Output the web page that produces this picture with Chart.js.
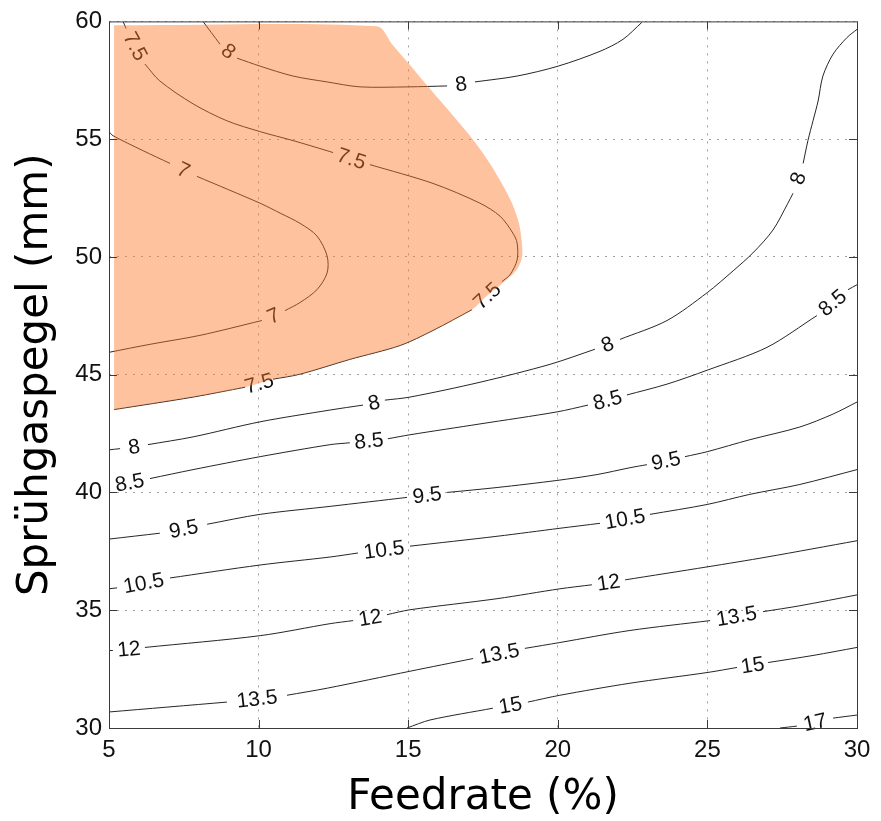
<!DOCTYPE html>
<html>
<head>
<meta charset="utf-8">
<script src="https://cdn.jsdelivr.net/npm/chart.js@4.4.1/dist/chart.umd.min.js"></script>
<style>
  html, body { margin: 0; padding: 0; background: #fff; }
  canvas { display: block; }
</style>
</head>
<body>
<canvas id="contourChart" width="881" height="821"></canvas>
<script>
// axis ticks
const xTicks = [5, 10, 15, 20, 25, 30];
const yTicks = [30, 35, 40, 45, 50, 55, 60];

// contour lines as [Feedrate, Sprühgaspegel]; null = gap where the label goes
const c7 = [
  [5, 55.32], [5.13, 55.15], [6.14, 54.51], [7.04, 53.97], null,
  [7.94, 53.42], [10.05, 52.28], [10.72, 51.86], [11.38, 51.43], [11.95, 50.89], [12.29, 50.04],
  [12.29, 49.32], [11.95, 48.61], [11.38, 48.06], [10.88, 47.72], null,
  [10.11, 47.30], [8.04, 46.67], [6.37, 46.29], [5, 45.95]
];
const c75 = [
  [5.47, 60], [5.57, 59.70], null,
  [6.20, 58.19], [6.70, 57.47], [7.81, 56.50], [8.94, 55.78], [10.05, 55.32], [11.15, 54.94], [12.29, 54.51], [12.49, 54.43], null,
  [13.72, 53.92], [15.83, 53.12], [17.40, 52.28], [18.07, 51.73], [18.50, 51.01], [18.64, 50.59], [18.64, 49.87], [18.40, 49.24], [18.13, 48.95], null,
  [17.13, 47.76], [15.83, 46.88], [14.73, 46.24], [13.05, 45.65], [11.38, 45.02], [10.48, 44.81], null,
  [9.55, 44.47], [7.81, 44.05], [5.17, 43.52]
];
const c8top = [
  [8.14, 60], [8.71, 59.03], null,
  [9.28, 58.44], [10.05, 58.10], [11.15, 57.68], [12.29, 57.43], [13.39, 57.22], [14.99, 57.22], [16.30, 57.26], null,
  [17.23, 57.43], [18.64, 57.68], [20.01, 58.10], [21.41, 58.73], [22.18, 59.24], [22.81, 59.96]
];
const c8 = [
  [5, 41.81], [5.37, 41.86], null,
  [6.30, 42.03], [7.81, 42.36], [10.05, 43.00], [12.39, 43.50], [13.49, 43.71], null,
  [14.22, 43.92], [15.06, 44.05], [17.40, 44.68], [19.74, 45.44], [21.24, 46.08], null,
  [22.08, 46.50], [23.65, 47.30], [24.99, 48.48], [25.86, 49.41], [26.52, 50.17], [27.19, 51.14], [27.69, 52.28], [27.86, 52.70], null,
  [28.20, 53.97], [28.36, 54.94], [28.53, 55.78], [28.70, 56.62], [28.86, 57.68], [29.20, 58.61], [29.67, 59.32], [30, 59.66]
];
const c85 = [
  [5, 40.26], null,
  [6.37, 40.59], [7.81, 40.97], [10.05, 41.52], [12.39, 42.03], [13.05, 42.11], null,
  [14.32, 42.28], [15.06, 42.45], [17.40, 42.91], [19.97, 43.42], [21.01, 43.71], null,
  [22.31, 44.14], [23.65, 44.60], [24.99, 45.19], [26.99, 46.16], [28.66, 47.51], null,
  [29.70, 48.61], [30, 48.82]
];
const c95 = [
  [5, 38.02], [6.70, 38.27], null,
  [8.28, 38.65], [10.05, 39.07], [12.39, 39.41], [14.96, 39.79], null,
  [16.30, 40.00], [17.97, 40.21], [19.97, 40.51], [21.31, 40.76], [22.41, 41.05], [22.98, 41.18], null,
  [24.25, 41.52], [24.99, 41.73], [26.42, 42.24], [28.09, 42.78], [29.20, 43.33], [30, 43.84]
];
const c105 = [
  [5, 35.91], [5.27, 35.95], null,
  [7.04, 36.37], [10.05, 36.92], [12.39, 37.26], [13.32, 37.43], null,
  [15.06, 37.72], [17.97, 38.14], [20.07, 38.48], [21.41, 38.69], null,
  [23.08, 39.07], [24.99, 39.49], [26.42, 39.92], [28.09, 40.34], [30, 40.97]
];
const c12 = [
  [5, 33.29], [5.13, 33.29], null,
  [6.20, 33.42], [10.05, 33.92], [12.39, 34.43], [13.16, 34.56], null,
  [14.29, 34.81], [15.06, 35.02], [17.97, 35.49], [20.07, 35.91], [21.14, 36.08], null,
  [22.25, 36.29], [24.99, 36.84], [26.99, 37.26], [30, 37.95]
];
const c135 = [
  [5, 30.68], [8.94, 31.10], null,
  [10.95, 31.39], [12.29, 31.69], [15.06, 32.41], [17.17, 32.95], null,
  [18.90, 33.38], [20.07, 33.63], [22.41, 34.14], [25.09, 34.56], null,
  [26.86, 34.94], [28.09, 35.19], [30, 35.65]
];
const c15 = [
  [14.96, 30], [15.73, 30.34], [17.83, 30.84], null,
  [19.00, 31.10], [20.07, 31.39], [22.41, 31.90], [25.02, 32.36], [25.99, 32.57], null,
  [27.03, 32.78], [28.53, 33.08], [30, 33.42]
];
const c17 = [
  [27.43, 30], [27.99, 30.08], null,
  [29.20, 30.42], [30, 30.55]
];

const levels = ['7', '7.5', '8', '8', '8.5', '9.5', '10.5', '12', '13.5', '15', '17'];
const contours = [c7, c75, c8top, c8, c85, c95, c105, c12, c135, c15, c17];

// shaded region
const region = [
  [5.17, 59.84], [13.96, 59.79], [14.46, 59.03], [15.03, 58.19], [15.59, 57.34], [16.16, 56.50],
  [16.73, 55.65], [17.27, 54.81], [17.73, 53.97], [18.13, 53.12], [18.47, 52.28], [18.70, 51.43],
  [18.80, 50.59], [18.80, 49.96], [18.60, 49.41], [18.17, 48.90], [17.63, 48.35], [17.13, 47.76],
  [15.83, 46.88], [14.73, 46.24], [13.05, 45.65], [11.38, 45.02], [10.48, 44.81], [9.55, 44.47],
  [7.81, 44.05], [5.17, 43.50], [5.17, 43.42]
];

const toPoints = arr => arr.map(p => p ? { x: p[0], y: p[1] } : { x: null, y: null });

const tickFont = { family: '"Liberation Sans", Arial, sans-serif', size: 24 };
const titleFont = { family: '"DejaVu Sans", Verdana, sans-serif', size: 42, lineHeight: 1 };

// labels sit in the gaps, turned along the line; drawn just before the shaded region (dataset 0)
const contourLabels = {
  id: 'contourLabels',
  afterDatasetDraw(chart, args) {
    if (args.index !== 1) return;
    const { ctx, scales: { x, y } } = chart;
    ctx.save();
    ctx.font = '21px "Liberation Sans", Arial, sans-serif';
    ctx.fillStyle = '#111';
    ctx.textAlign = 'center';
    ctx.textBaseline = 'middle';
    contours.forEach((line, k) => {
      line.forEach((p, i) => {
        if (p !== null) return;
        const a = line[i - 1], b = line[i + 1];
        const x1 = x.getPixelForValue(a[0]), y1 = y.getPixelForValue(a[1]);
        const x2 = x.getPixelForValue(b[0]), y2 = y.getPixelForValue(b[1]);
        let ang = Math.atan2(y2 - y1, x2 - x1);
        if (ang > Math.PI / 2) ang -= Math.PI;
        if (ang < -Math.PI / 2) ang += Math.PI;
        ctx.save();
        ctx.translate((x1 + x2) / 2, (y1 + y2) / 2);
        ctx.rotate(ang);
        ctx.fillText(levels[k], 0, 1);
        ctx.restore();
      });
    });
    ctx.restore();
  }
};

// box round the plot with inward ticks on all four sides
const frame = {
  id: 'frame',
  afterDatasetsDraw(chart) {
    const { ctx, chartArea: a, scales: { x, y } } = chart;
    ctx.save();
    ctx.strokeStyle = '#3a3a3a';
    ctx.lineWidth = 1;
    ctx.strokeRect(a.left + 0.5, a.top + 0.5, a.right - a.left, a.bottom - a.top);
    ctx.beginPath();
    xTicks.slice(1, -1).forEach(v => {
      const px = Math.round(x.getPixelForValue(v)) + 0.5;
      ctx.moveTo(px, a.bottom); ctx.lineTo(px, a.bottom - 8);
      ctx.moveTo(px, a.top); ctx.lineTo(px, a.top + 8);
    });
    yTicks.slice(1, -1).forEach(v => {
      const py = Math.round(y.getPixelForValue(v)) + 0.5;
      ctx.moveTo(a.left, py); ctx.lineTo(a.left + 8, py);
      ctx.moveTo(a.right, py); ctx.lineTo(a.right - 8, py);
    });
    ctx.stroke();
    ctx.restore();
  }
};

const datasets = [{
  data: toPoints(region),
  borderWidth: 0,
  backgroundColor: 'rgba(255, 120, 40, 0.45)',
  fill: 'shape',
  pointRadius: 0,
  tension: 0.3
}].concat(contours.map(c => ({
  data: toPoints(c),
  borderColor: '#262626',
  borderWidth: 1,
  pointRadius: 0,
  fill: false,
  spanGaps: false,
  tension: 0.3
})));

new Chart(document.getElementById('contourChart'), {
  type: 'line',
  data: { datasets },
  options: {
    responsive: false,
    animation: false,
    events: [],
    layout: { padding: { top: 17, right: 24, left: 0, bottom: 0 } },
    plugins: { legend: { display: false }, tooltip: { enabled: false } },
    scales: {
      x: {
        type: 'linear', min: 5, max: 30,
        afterBuildTicks: s => { s.ticks = xTicks.map(v => ({ value: v })); },
        afterFit: s => { s.height = 93; },
        grid: { color: '#a0a0a0', lineWidth: 1, drawTicks: false },
        border: { display: false, dash: [2, 6] },
        ticks: { padding: 8, font: tickFont, color: '#111', maxRotation: 0, autoSkip: false },
        title: { display: true, text: 'Feedrate (%)', font: titleFont, color: '#000', padding: { top: 0, bottom: 1.5 } }
      },
      y: {
        type: 'linear', min: 30, max: 60,
        afterBuildTicks: s => { s.ticks = yTicks.map(v => ({ value: v })); },
        afterFit: s => { s.width = 109; },
        grid: { color: '#a0a0a0', lineWidth: 1, drawTicks: false },
        border: { display: false, dash: [2, 6] },
        ticks: { padding: 7, font: tickFont, color: '#111', autoSkip: false },
        title: { display: true, text: 'Sprühgaspegel (mm)', font: titleFont, color: '#000', padding: { top: 15.5, bottom: 0 } }
      }
    }
  },
  plugins: [contourLabels, frame]
});
</script>
</body>
</html>
